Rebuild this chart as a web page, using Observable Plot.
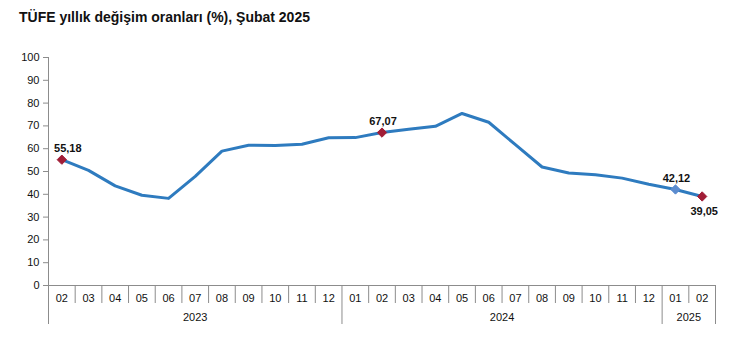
<!DOCTYPE html>
<html>
<head>
<meta charset="utf-8">
<script src="https://cdn.jsdelivr.net/npm/d3@7"></script>
<script src="https://cdn.jsdelivr.net/npm/@observablehq/plot@0.6"></script>
<style>
  html, body { margin: 0; padding: 0; background: #fff; }
  #wrap { position: relative; width: 750px; height: 359px; font-family: "Liberation Sans", Arial, sans-serif; }
  #title { position: absolute; left: 19px; top: 9px; font-size: 14px; font-weight: bold; color: #111; }
  #chart { position: absolute; left: 0; top: 0; }
</style>
</head>
<body>
<div id="wrap">
  <div id="chart"></div>
  <div id="title">TÜFE yıllık değişim oranları (%), Şubat 2025</div>
</div>
<script>
const months = ["02","03","04","05","06","07","08","09","10","11","12",
                "01","02","03","04","05","06","07","08","09","10","11","12",
                "01","02"];
const values = [55.18, 50.51, 43.68, 39.59, 38.21, 47.83, 58.94, 61.53, 61.36, 61.98, 64.77,
                64.86, 67.07, 68.50, 69.80, 75.45, 71.60, 61.78, 51.97, 49.38, 48.58, 47.09, 44.38,
                42.12, 39.05];
const yearLabels = ["2023", "2024", "2025"];
const yearCounts = [11, 12, 2];
const yTicks = [0, 10, 20, 30, 40, 50, 60, 70, 80, 90, 100];
const highlightIdx = [0, 12, 23, 24];
const highlightColor = ["#A11D36", "#A11D36", "#5B8CCF", "#A11D36"];
const labelText = ["55,18", "67,07", "42,12", "39,05"];
const labelBelow = [false, false, false, true];

const data = values.map((v, i) => ({i, v, m: months[i]}));
const hl = highlightIdx.map((i, k) => ({i, v: values[i], c: highlightColor[k], t: labelText[k], below: labelBelow[k]}));

let start = -0.5;
const years = yearLabels.map((y, k) => {
  const s = start, e = start + yearCounts[k];
  start = e;
  return {label: y, s, e, mid: (s + e) / 2};
});
const yearBounds = [years[0].s, ...years.map(y => y.e)];
const monthBounds = d3.range(0, months.length + 1).map(k => k - 0.5).filter(b => !yearBounds.includes(b));

const chart = Plot.plot({
  width: 750,
  height: 359,
  marginLeft: 48,
  marginRight: 35,
  marginTop: 57,
  marginBottom: 74,
  style: {fontFamily: "'Liberation Sans', Arial, sans-serif", fontSize: "11px", color: "#111", background: "#fff"},
  x: {domain: [-0.5, months.length - 0.5], axis: null},
  y: {domain: [0, 100], axis: null},
  marks: [
    Plot.ruleX([-0.5], {y1: 0, y2: 100, stroke: "#8c8c8c"}),
    Plot.ruleY(yTicks, {y: d => d, x1: -0.5, x2: -0.5, insetLeft: -5, stroke: "#8c8c8c"}),
    Plot.text(yTicks, {x: -0.5, y: d => d, dx: -9, textAnchor: "end", text: d => String(d), fill: "#111"}),
    Plot.ruleY([0], {stroke: "#8c8c8c"}),
    Plot.ruleX(monthBounds, {x: d => d, y1: 0, y2: 0, insetBottom: -18, stroke: "#8c8c8c"}),
    Plot.ruleX(yearBounds, {x: d => d, y1: 0, y2: 0, insetBottom: -39, stroke: "#8c8c8c"}),
    Plot.text(data, {x: "i", y: 0, dy: 13, text: "m", fill: "#111"}),
    Plot.text(years, {x: "mid", y: 0, dy: 32, text: "label", fill: "#111"}),
    Plot.line(data, {x: "i", y: "v", stroke: "#2E7BBF", strokeWidth: 3, curve: "linear", strokeLinejoin: "round"}),
    Plot.dot(hl, {x: "i", y: "v", symbol: "diamond2", r: 4.2, fill: "c", stroke: "c", strokeWidth: 1}),
    Plot.text(hl.filter(d => !d.below && d.i === 0), {x: "i", y: "v", dy: -11, dx: 6, text: "t", fontWeight: "bold", fill: "#111"}),
    Plot.text(hl.filter(d => !d.below && d.i !== 0), {x: "i", y: "v", dy: -11, dx: 1, text: "t", fontWeight: "bold", fill: "#111"}),
    Plot.text(hl.filter(d => d.below), {x: "i", y: "v", dy: 15, dx: 2, text: "t", fontWeight: "bold", fill: "#111"})
  ]
});
document.getElementById("chart").appendChild(chart);
</script>
</body>
</html>
